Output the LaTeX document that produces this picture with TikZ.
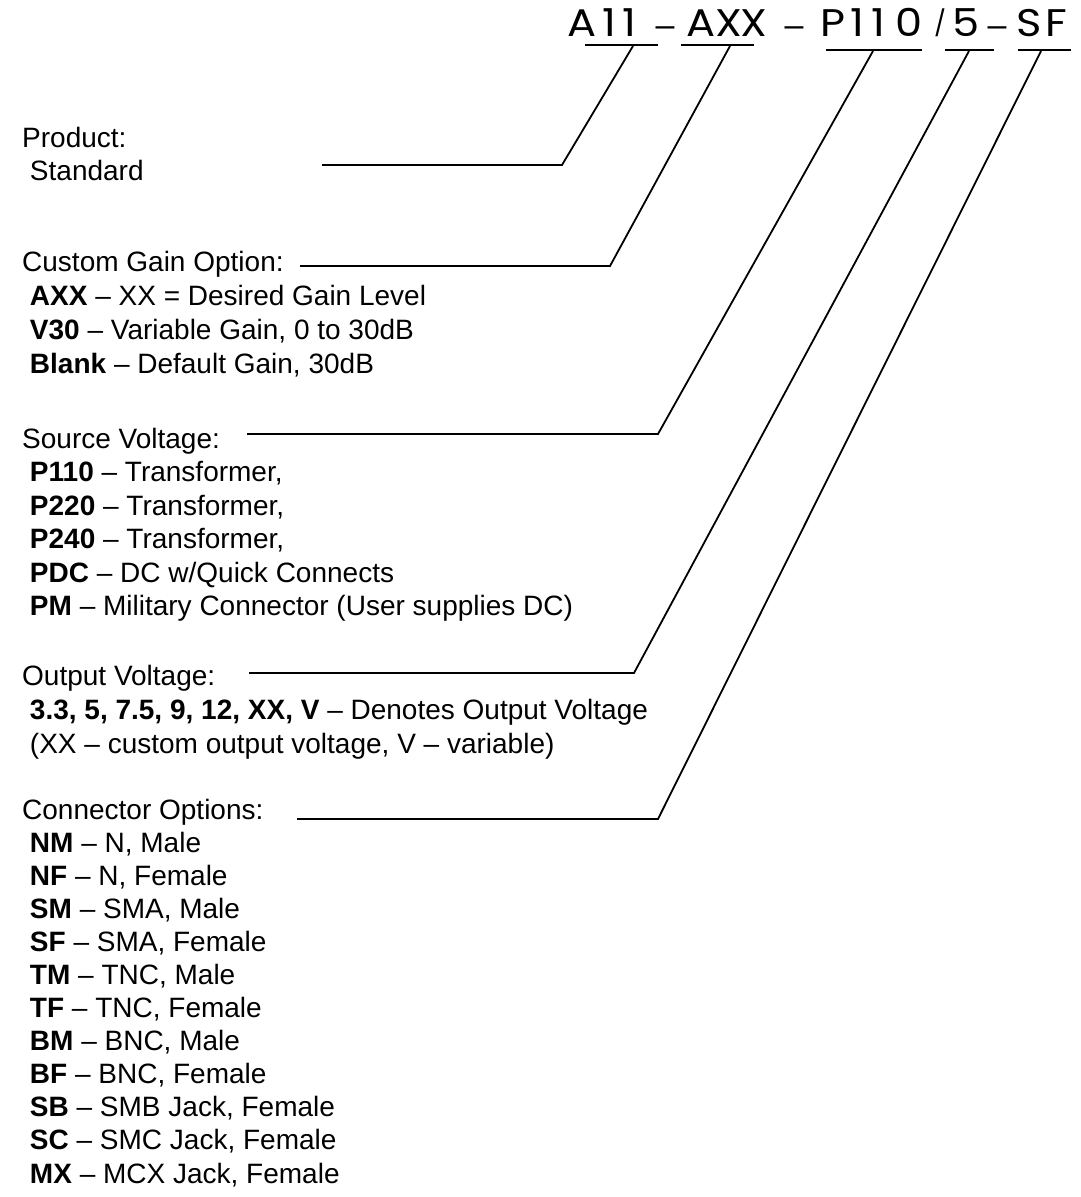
\documentclass[tikz,border=0pt]{standalone}
\usepackage{fontspec}
\setmainfont{Liberation Sans}
\newfontfamily\titlefnt{Poppins}
\newcommand{\diagbody}{\fontsize{28}{33}\selectfont}
\newcommand{\ind}{\hspace*{0.278em}}
\newcommand{\tw}[1]{\scalebox{1.12}[1]{#1}}
\begin{document}
\begin{tikzpicture}[x=1pt,y=-1pt,
  txt/.style={anchor=base west, inner sep=0pt, font=\diagbody},
  tch/.style={anchor=base, inner sep=0pt, font=\titlefnt\fontsize{38.5}{40}\selectfont},
  tdash/.style={anchor=base, inner sep=0pt, font=\fontsize{34}{40}\selectfont},
  tslash/.style={anchor=center, inner sep=0pt},
  lead/.style={draw=black, line width=1.8pt, line join=miter}]
\useasboundingbox (0,0) rectangle (1081,1197);

% title, character by character
\node[tch] (ta1) at (582,36.5) {\tw{A}};
\node[tch] (ta2) at (609,36.5) {\tw{1}};
\node[tch] (ta3) at (629.5,36.5) {\tw{1}};
\node[tdash] (td1) at (665,36.5) {–};
\node[tch] (tb1) at (701,36.5) {\tw{A}};
\node[tch] (tb2) at (728.5,36.5) {\tw{X}};
\node[tch] (tb3) at (754,36.5) {\tw{X}};
\node[tdash] (td2) at (794,36.5) {–};
\node[tch] (tc1) at (833,36.5) {\tw{P}};
\node[tch] (tc2) at (857,36.5) {\tw{1}};
\node[tch] (tc3) at (878,36.5) {\tw{1}};
\node[tch] (tc4) at (909,36.5) {\tw{0}};
\node[tslash] (tsl) at (940,23.2) {\resizebox*{!}{28pt}{\titlefnt /}};
\node[tch] (te1) at (966,36.5) {\tw{5}};
\node[tdash] (td3) at (997,36.5) {–};
\node[tch] (tf1) at (1029,36.5) {\tw{S}};
\node[tch] (tf2) at (1056,36.5) {\tw{F}};

% coordinates of the leaders
\coordinate (u1a) at (585,45);  \coordinate (u1b) at (658,45);
\coordinate (u2a) at (681,45);  \coordinate (u2b) at (754,45);
\coordinate (u3a) at (826,50);  \coordinate (u3b) at (922,50);
\coordinate (u4a) at (945,50);  \coordinate (u4b) at (994,50);
\coordinate (u5a) at (1018,50); \coordinate (u5b) at (1071,50);

\coordinate (t1) at (633,46);  \coordinate (b1) at (562,165); \coordinate (h1) at (322,165);
\coordinate (t2) at (730,46);  \coordinate (b2) at (610,266); \coordinate (h2) at (300,266);
\coordinate (t3) at (873,51);  \coordinate (b3) at (658,434); \coordinate (h3) at (247,434);
\coordinate (t4) at (969,51);  \coordinate (b4) at (634,673); \coordinate (h4) at (249,673);
\coordinate (t5) at (1041,51); \coordinate (b5) at (658,819); \coordinate (h5) at (297,819);

\foreach \i in {1,...,5} {
  \draw[lead] (u\i a) -- (u\i b);
  \draw[lead] (h\i) -- (b\i) -- (t\i);
}

% text
\def\lx{22}
\node[txt] (p0) at (\lx,147) {Product:};
\node[txt] (p1) at (\lx,180) {\ind Standard};

\node[txt] (g0) at (\lx,271) {Custom Gain Option:};
\node[txt] (g1) at (\lx,305) {\ind\textbf{AXX} – XX = Desired Gain Level};
\node[txt] (g2) at (\lx,339) {\ind\textbf{V30} – Variable Gain, 0 to 30dB};
\node[txt] (g3) at (\lx,373) {\ind\textbf{Blank} – Default Gain, 30dB};

\node[txt] (s0) at (\lx,448) {Source Voltage:};
\node[txt] (s1) at (\lx,481) {\ind\textbf{P110} – Transformer,};
\node[txt] (s2) at (\lx,515) {\ind\textbf{P220} – Transformer,};
\node[txt] (s3) at (\lx,548) {\ind\textbf{P240} – Transformer,};
\node[txt] (s4) at (\lx,582) {\ind\textbf{PDC} – DC w/Quick Connects};
\node[txt] (s5) at (\lx,615) {\ind\textbf{PM} – Military Connector (User supplies DC)};

\node[txt] (o0) at (\lx,685) {Output Voltage:};
\node[txt] (o1) at (\lx,719) {\ind\textbf{3.3, 5, 7.5, 9, 12, XX, V} – Denotes Output Voltage};
\node[txt] (o2) at (\lx,753) {\ind(XX – custom output voltage, V – variable)};

\node[txt] (c0) at (\lx,819) {Connector Options:};
\node[txt] (c1)  at (\lx,852.0) {\ind\textbf{NM} – N, Male};
\node[txt] (c2)  at (\lx,885.1) {\ind\textbf{NF} – N, Female};
\node[txt] (c3)  at (\lx,918.2) {\ind\textbf{SM} – SMA, Male};
\node[txt] (c4)  at (\lx,951.3) {\ind\textbf{SF} – SMA, Female};
\node[txt] (c5)  at (\lx,984.4) {\ind\textbf{TM} – TNC, Male};
\node[txt] (c6)  at (\lx,1017.5) {\ind\textbf{TF} – TNC, Female};
\node[txt] (c7)  at (\lx,1050.6) {\ind\textbf{BM} – BNC, Male};
\node[txt] (c8)  at (\lx,1083.7) {\ind\textbf{BF} – BNC, Female};
\node[txt] (c9)  at (\lx,1116.8) {\ind\textbf{SB} – SMB Jack, Female};
\node[txt] (c10) at (\lx,1149.9) {\ind\textbf{SC} – SMC Jack, Female};
\node[txt] (c11) at (\lx,1183.0) {\ind\textbf{MX} – MCX Jack, Female};
\end{tikzpicture}
\end{document}
